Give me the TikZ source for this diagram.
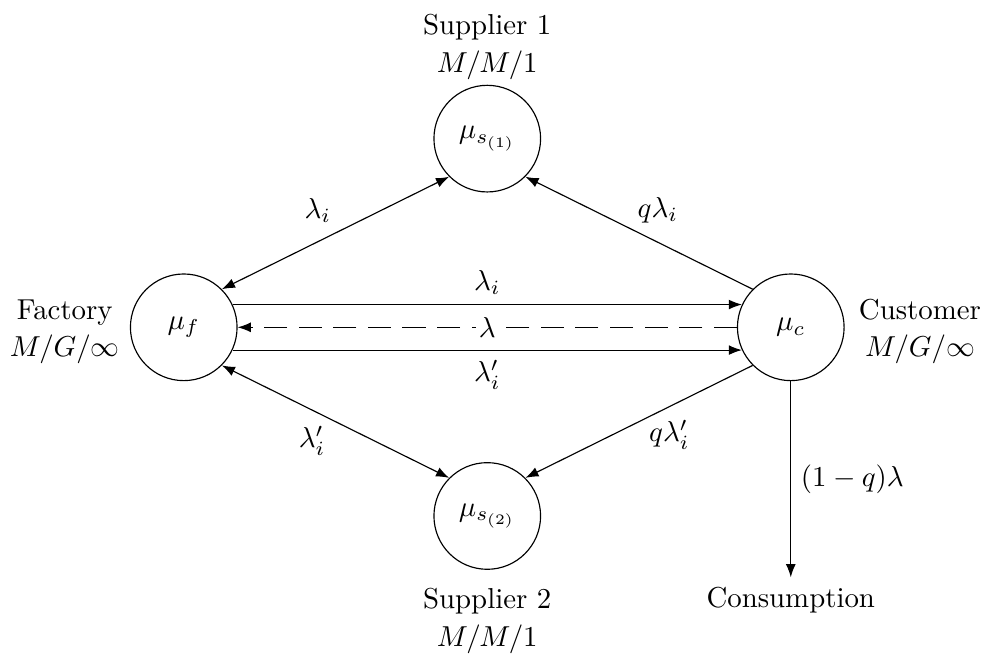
\documentclass[tikz,border=0pt]{standalone}
\usetikzlibrary{positioning,arrows.meta}
\usepackage{amsmath}

\begin{document}
\begin{tikzpicture}[
  queue/.style={draw, circle, minimum size=1.3cm},
  tag/.style={align=center},
  arrow/.style={-{Latex[length=1.6mm, width=1.2mm]}},
  biarrow/.style={{Latex[length=1.6mm, width=1.2mm]}-{Latex[length=1.6mm, width=1.2mm]}}
]
\useasboundingbox (-2.24,-4.0) rectangle (9.78,3.99);

\node[queue] (fac) at (0,0) {$\mu_f$};
\node[queue] (cust) at (7.4,0) {$\mu_c$};
\node[queue] (s1) at (3.7,2.3) {$\mu_{s_{(1)}}$};
\node[queue] (s2) at (3.7,-2.3) {$\mu_{s_{(2)}}$};
\node[tag, left=0mm of fac, yshift=-1.5pt] (facl) {Factory\\[1pt]$M/G/\infty$};
\node[tag, right=0.5mm of cust, yshift=-1.5pt] (custl) {Customer\\[1pt]$M/G/\infty$};
\node[tag, above=-0.6mm of s1] (s1l) {Supplier 1\\[1pt]$M/M/1$};
\node[tag, below=1mm of s2] (s2l) {Supplier 2\\[1pt]$M/M/1$};
\node (cons) at (7.4,-3.33) {Consumption};

% flows between factory and customer
\draw[arrow] (fac.25) -- node[above]{$\lambda_i$} (cust.155);
\draw[arrow, dash pattern=on 8pt off 4pt] (cust) -- node[fill=white, inner sep=1pt]{$\lambda$} (fac);
\draw[arrow] (fac.-25) -- node[below]{$\lambda'_i$} (cust.-155);

% suppliers
\draw[biarrow] (fac.north east) -- node[above left, xshift=2pt]{$\lambda_i$} (s1.south west);
\draw[arrow] (cust.north west) -- node[above right, xshift=-4pt]{$q\lambda_i$} (s1.south east);
\draw[biarrow] (fac.south east) -- node[below left, yshift=2pt]{$\lambda'_i$} (s2.north west);
\draw[arrow] (cust.south west) -- node[below right, yshift=4pt]{$q\lambda'_i$} (s2.north east);

\draw[arrow] (cust) -- node[right]{$(1-q)\lambda$} (cons);
\end{tikzpicture}
\end{document}
